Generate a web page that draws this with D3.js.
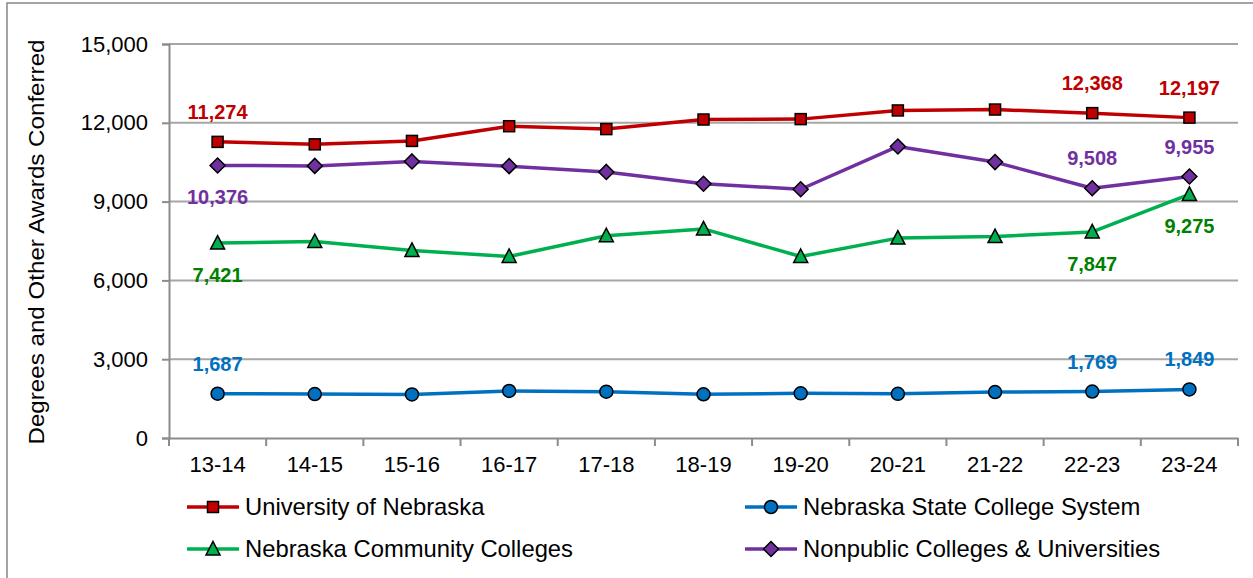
<!DOCTYPE html>
<html>
<head>
<meta charset="utf-8">
<script src="https://cdn.jsdelivr.net/npm/d3@7"></script>
<style>
  html, body { margin: 0; padding: 0; background: #fff; }
  svg { display: block; font-family: "Liberation Sans", Arial, sans-serif; }
</style>
</head>
<body>
<svg id="chart" width="1253" height="578"></svg>
<script>
const categories = ["13-14","14-15","15-16","16-17","17-18","18-19","19-20","20-21","21-22","22-23","23-24"];
const universityNebraska = [11274, 11180, 11310, 11870, 11760, 12125, 12140, 12470, 12505, 12368, 12197];
const stateCollege = [1687, 1675, 1660, 1790, 1765, 1665, 1700, 1680, 1750, 1769, 1849];
const communityColleges = [7421, 7480, 7140, 6910, 7700, 7960, 6910, 7610, 7670, 7847, 9275];
const nonpublic = [10376, 10360, 10530, 10350, 10130, 9680, 9470, 11100, 10505, 9508, 9955];
const yTicks = [0, 3000, 6000, 9000, 12000, 15000];
const yTitle = "Degrees and Other Awards Conferred";

const series = [
  {name: "University of Nebraska", values: universityNebraska, color: "#C00000", labelColor: "#C00000", symbol: "square", labels: [[0,"above"],[9,"above"],[10,"above"]]},
  {name: "Nebraska State College System", values: stateCollege, color: "#0070C0", labelColor: "#0070C0", symbol: "circle", labels: [[0,"above"],[9,"above"],[10,"above"]]},
  {name: "Nebraska Community Colleges", values: communityColleges, color: "#00B050", labelColor: "#008000", symbol: "triangle", labels: [[0,"below"],[9,"below"],[10,"below"]]},
  {name: "Nonpublic Colleges & Universities", values: nonpublic, color: "#7030A0", labelColor: "#7030A0", symbol: "diamond", labels: [[0,"below"],[9,"above"],[10,"above"]]}
];

(function () {
const svg = d3.select("#chart");
const pLeft = 169, pRight = 1238, pTop = 44, pBottom = 438;

// outer border
svg.append("rect").attr("x", 7).attr("y", 3).attr("width", 1260).attr("height", 600)
  .attr("fill", "none").attr("stroke", "#868686").attr("stroke-width", 1.5);

const x = d3.scaleBand().domain(categories).range([pLeft, pRight]).padding(0);
const y = d3.scaleLinear().domain([0, 15000]).range([pBottom, pTop]);

// gridlines
svg.append("g").selectAll("line").data(yTicks.filter(d => d > 0)).join("line")
  .attr("x1", pLeft).attr("x2", pRight).attr("y1", d => y(d)).attr("y2", d => y(d))
  .attr("stroke", "#a6a6a6").attr("stroke-width", 2);

// y axis
const yAxis = svg.append("g").attr("transform", `translate(${pLeft},0)`)
  .call(d3.axisLeft(y).tickValues(yTicks).tickFormat(d3.format(",")).tickSize(7).tickPadding(14));
yAxis.select(".domain").attr("stroke", "#8c8c8c").attr("stroke-width", 2);
yAxis.selectAll(".tick line").attr("stroke", "#8c8c8c").attr("stroke-width", 2);
yAxis.selectAll("text").attr("font-size", 22).attr("fill", "#000").attr("font-family", "Liberation Sans, Arial, sans-serif");

// x axis
const xAxis = svg.append("g").attr("transform", `translate(0,${pBottom})`)
  .call(d3.axisBottom(x).tickSize(0).tickPadding(18));
xAxis.select(".domain").attr("stroke", "#8c8c8c").attr("stroke-width", 2);
xAxis.selectAll("text").attr("font-size", 22).attr("fill", "#000").attr("font-family", "Liberation Sans, Arial, sans-serif");
// boundary tick marks
const bounds = categories.map(c => x(c)).concat([x(categories[categories.length-1]) + x.bandwidth()]);
svg.append("g").selectAll("line").data(bounds).join("line")
  .attr("x1", d => d).attr("x2", d => d).attr("y1", pBottom).attr("y2", pBottom + 8)
  .attr("stroke", "#8c8c8c").attr("stroke-width", 2);

// y title
svg.append("text").attr("transform", `translate(44,${(pTop+pBottom)/2 + 1}) rotate(-90)`)
  .attr("text-anchor", "middle").attr("font-size", 22.5).attr("fill", "#000")
  .attr("textLength", 405).attr("lengthAdjust", "spacingAndGlyphs").text(yTitle);

const cx = d => x(d) + x.bandwidth() / 2;

function drawMarker(g, symbol, color) {
  if (symbol === "square") {
    g.append("rect").attr("x", -5.5).attr("y", -5.5).attr("width", 11).attr("height", 11)
      .attr("fill", color).attr("stroke", "#000").attr("stroke-width", 1.5);
  } else if (symbol === "circle") {
    g.append("circle").attr("r", 6.5).attr("fill", color).attr("stroke", "#000").attr("stroke-width", 1.5);
  } else if (symbol === "triangle") {
    g.append("path").attr("d", "M0,-7.5L7,6L-7,6Z").attr("fill", color).attr("stroke", "#000").attr("stroke-width", 1.5);
  } else if (symbol === "diamond") {
    g.append("path").attr("d", "M0,-7.5L7.5,0L0,7.5L-7.5,0Z").attr("fill", color).attr("stroke", "#000").attr("stroke-width", 1.5);
  }
}

const line = d3.line().x((d, i) => cx(categories[i])).y(d => y(d));
series.forEach(s => {
  svg.append("path").datum(s.values).attr("d", line).attr("fill", "none")
    .attr("stroke", s.color).attr("stroke-width", 3.5).attr("stroke-linejoin", "round");
  s.values.forEach((v, i) => {
    const g = svg.append("g").attr("transform", `translate(${cx(categories[i])},${y(v)})`);
    drawMarker(g, s.symbol, s.color);
  });
  s.labels.forEach(([i, pos]) => {
    const v = s.values[i];
    svg.append("text").attr("x", cx(categories[i]))
      .attr("y", y(v) + (pos === "above" ? -30 : 32))
      .attr("dy", "0.35em").attr("text-anchor", "middle")
      .attr("font-size", 20).attr("font-weight", "bold").attr("fill", s.labelColor)
      .text(d3.format(",")(v));
  });
});

// legend
const legendPos = [[187, 507], [745, 507], [187, 549], [745, 549]];
series.forEach((s, k) => {
  const [lx, ly] = legendPos[k];
  const g = svg.append("g").attr("transform", `translate(${lx},${ly})`);
  g.append("line").attr("x1", 0).attr("x2", 52).attr("y1", 0).attr("y2", 0)
    .attr("stroke", s.color).attr("stroke-width", 3.5);
  const m = g.append("g").attr("transform", "translate(26,0)");
  drawMarker(m, s.symbol, s.color);
  g.append("text").attr("x", 58).attr("y", 0).attr("dy", "0.35em")
    .attr("font-size", 23.8).attr("fill", "#000").text(s.name);
});
})();
</script>
</body>
</html>
